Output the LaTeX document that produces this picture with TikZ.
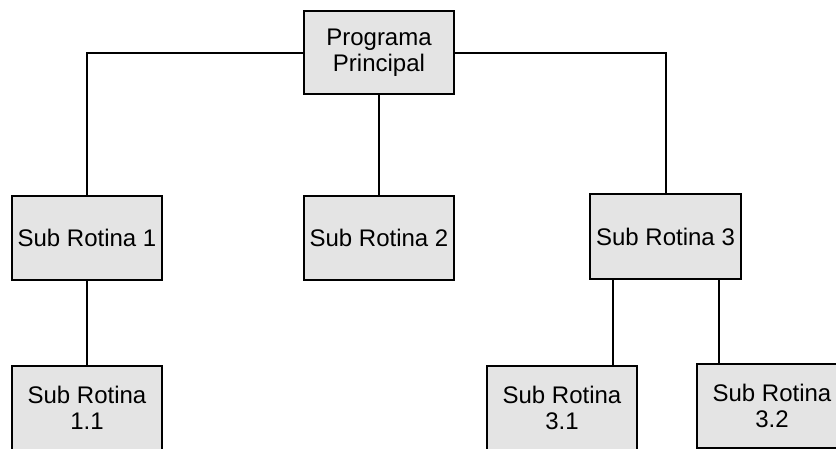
\documentclass[tikz,border=0pt]{standalone}
\usepackage{fontspec}
\setmainfont{Liberation Sans}
\definecolor{caixa}{HTML}{E4E4E4}

\begin{document}
\begin{tikzpicture}[x=1pt, y=-1pt,
	rotina/.style={draw, line width=2pt, fill=caixa, minimum width=150pt,
		minimum height=84pt, inner sep=0pt, align=center,
		font=\fontsize{24}{26}\selectfont},
	liga/.style={line width=2pt}]
	\useasboundingbox (0,0) rectangle (836,448);
	\clip (0,0) rectangle (836,448);
	
	\node[rotina, minimum height=83pt] (prog) at (379,52.5) {Programa\\Principal};
	\node[rotina] (sub1) at (87,238) {Sub Rotina 1};
	\node[rotina] (sub2) at (379,238) {Sub Rotina 2};
	\node[rotina, minimum width=151pt, minimum height=85pt] (sub3) at (665.5,236.5) {Sub Rotina 3};
	\node[rotina] (sub11) at (87,408) {Sub Rotina\\1.1};
	\node[rotina] (sub31) at (562,408) {Sub Rotina\\3.1};
	\node[rotina] (sub32) at (772,406) {Sub Rotina\\3.2};
	
	\draw[liga] (prog.west) -| (sub1.north);
	\draw[liga] (prog.south) -- (sub2.north);
	\draw[liga] (prog.east) -| (sub3.north);
	\draw[liga] (sub1.south) -- (sub11.north);
	\draw[liga] ([xshift=-53pt]sub3.south) -- ([xshift=-53pt]sub3.south |- sub31.north);
	\draw[liga] ([xshift=53pt]sub3.south) -- ([xshift=53pt]sub3.south |- sub32.north);
	
\end{tikzpicture}
\end{document}
